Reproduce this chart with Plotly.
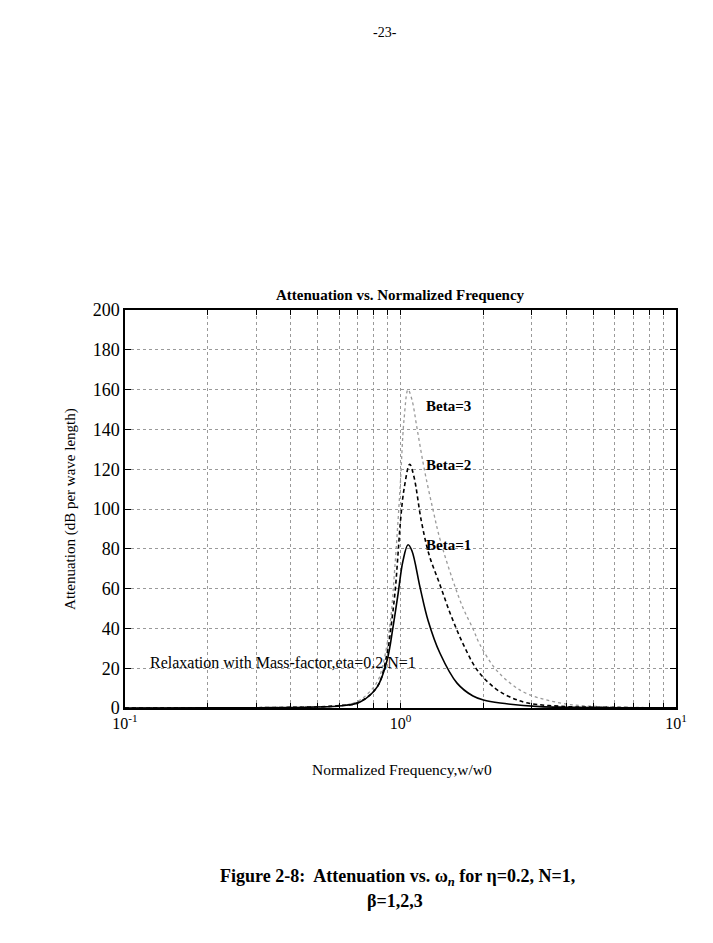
import plotly.graph_objects as go

# ---- data ----
f_b1 = [0.1, 0.2, 0.3, 0.4, 0.5, 0.6, 0.713, 0.822, 0.894, 0.939, 0.979, 1.021, 1.065, 1.1, 1.178, 1.259, 1.391, 1.604, 1.833, 2.0, 2.3, 3.21, 4.0, 5.0, 7.0, 10.0]
v_b1 = [0.0, 0.05, 0.1, 0.25, 0.5, 1.0, 3.0, 10.5, 24.0, 40.5, 57.0, 74.0, 82.0, 79.0, 60.5, 44.0, 27.5, 12.5, 6.0, 4.0, 2.5, 0.7, 0.4, 0.25, 0.1, 0.05]

f_b2 = [0.1, 0.2, 0.3, 0.4, 0.5, 0.6, 0.697, 0.822, 0.894, 0.93, 0.958, 0.979, 1.0, 1.03, 1.08, 1.12, 1.19, 1.27, 1.39, 1.52, 1.69, 1.9, 2.2, 2.5, 2.9, 4.0, 5.0, 7.0, 10.0]
v_b2 = [0.0, 0.05, 0.15, 0.3, 0.6, 1.2, 2.5, 10.5, 27.5, 44.0, 60.0, 77.0, 94.0, 110.0, 122.5, 116.0, 94.0, 77.0, 62.0, 47.0, 32.0, 19.0, 10.0, 5.5, 2.5, 0.7, 0.4, 0.15, 0.05]

f_b3 = [0.1, 0.2, 0.3, 0.4, 0.5, 0.605, 0.713, 0.822, 0.864, 0.916, 0.953, 0.996, 1.03, 1.065, 1.1, 1.15, 1.22, 1.31, 1.39, 1.55, 1.69, 1.83, 1.94, 2.2, 2.5, 2.9, 4.0, 6.0, 10.0]
v_b3 = [0.0, 0.05, 0.2, 0.4, 0.7, 1.0, 4.0, 13.0, 22.0, 42.0, 70.0, 110.0, 145.0, 160.0, 155.0, 140.0, 120.0, 100.0, 85.0, 64.0, 50.0, 40.0, 32.0, 20.0, 12.5, 7.0, 2.0, 0.5, 0.2]

x_major = [0.1, 1, 10]
x_major_text = ["10<sup>-1</sup>", "10<sup>0</sup>", "10<sup>1</sup>"]
x_minor = [0.2, 0.3, 0.4, 0.5, 0.6, 0.7, 0.8, 0.9, 2, 3, 4, 5, 6, 7, 8, 9]
y_tickvals = [0, 20, 40, 60, 80, 100, 120, 140, 160, 180, 200]

FONT = "Liberation Serif"
GRID = "#9a9a9a"

fig = go.Figure()
fig.add_trace(go.Scatter(x=f_b3, y=v_b3, mode="lines", line=dict(color="#9a9a9a", width=1.3, dash="dot", shape="spline"), showlegend=False))
fig.add_trace(go.Scatter(x=f_b2, y=v_b2, mode="lines", line=dict(color="black", width=1.6, dash="4px,3px", shape="spline"), showlegend=False))
fig.add_trace(go.Scatter(x=f_b1, y=v_b1, mode="lines", line=dict(color="black", width=1.6, shape="spline"), showlegend=False))

fig.update_layout(
    width=713, height=943,
    margin=dict(l=125, r=37, t=310, b=235),
    paper_bgcolor="white", plot_bgcolor="white",
    font=dict(family=FONT, color="black"),
    showlegend=False,
)
fig.update_xaxes(
    type="log", range=[-1, 1],
    tickvals=x_major, ticktext=x_major_text,
    tickfont=dict(family=FONT, size=16, color="black"),
    ticks="inside", ticklen=5, tickcolor="black",
    showline=True, linecolor="black", linewidth=1.5, mirror="ticks",
    showgrid=True, gridcolor=GRID, griddash="dot", gridwidth=1,
    minor=dict(tickvals=x_minor, ticks="inside", ticklen=5, tickcolor="black",
               showgrid=True, gridcolor=GRID, griddash="dot", gridwidth=1),
    zeroline=False,
)
fig.update_yaxes(
    range=[0, 200], tickvals=y_tickvals,
    tickfont=dict(family=FONT, size=18, color="black"),
    ticks="inside", ticklen=6, tickcolor="black",
    showline=True, linecolor="black", linewidth=1.5, mirror="ticks",
    showgrid=True, gridcolor=GRID, griddash="dot", gridwidth=1,
    zeroline=False,
)

def ann(text, x, y, size, xref="paper", yref="paper", xanchor="center", yanchor="middle", bold=False, angle=0):
    fig.add_annotation(text=("<b>%s</b>" % text) if bold else text, x=x, y=y, xref=xref, yref=yref,
                       xanchor=xanchor, yanchor=yanchor, showarrow=False, textangle=angle,
                       font=dict(family=FONT, size=size, color="black"))

ann("-23-", 0.472, 1.698, 14)
ann("Attenuation vs. Normalized Frequency", 0.5, 1.038, 15, bold=True)
ann("Normalized Frequency,w/w0", 0.503, -0.155, 15.5)
ann("Attenuation (dB per wave length)", -0.10, 0.5, 15, angle=-90)
ann("Relaxation with Mass-factor,eta=0.2,N=1", -0.916, 23, 16, xref="x", yref="y", xanchor="left")
ann("Beta=3", 0.0853, 152, 15, xref="x", yref="y", xanchor="left", bold=True)
ann("Beta=2", 0.0853, 122, 15, xref="x", yref="y", xanchor="left", bold=True)
ann("Beta=1", 0.0853, 82, 15, xref="x", yref="y", xanchor="left", bold=True)
ann("Figure 2-8:  Attenuation vs. ω<sub><i>n</i></sub> for η=0.2, N=1,", 0.494, -0.425, 18, bold=True)
ann("β=1,2,3", 0.49, -0.484, 18, bold=True)

fig.write_html("out.html")
